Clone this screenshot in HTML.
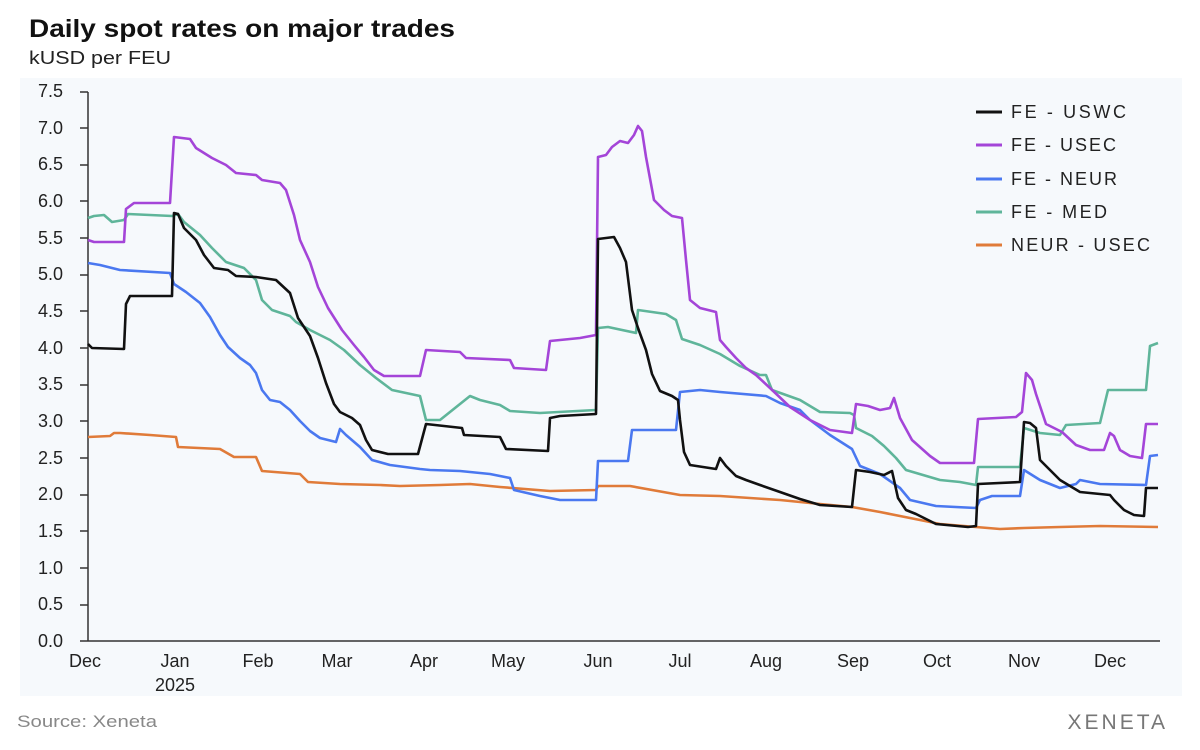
<!DOCTYPE html>
<html><head><meta charset="utf-8"><style>
body{margin:0;background:#fff;width:1200px;height:745px;overflow:hidden;font-family:"Liberation Sans",sans-serif}
</style></head><body>
<svg width="1200" height="745" xmlns="http://www.w3.org/2000/svg" font-family="Liberation Sans, sans-serif">
<rect x="20" y="78" width="1162" height="618" fill="#f6f9fc"/>
<text x="29" y="37" font-size="25" font-weight="bold" fill="#111" textLength="426" lengthAdjust="spacingAndGlyphs">Daily spot rates on major trades</text>
<text x="29" y="64" font-size="18" fill="#222" textLength="142" lengthAdjust="spacingAndGlyphs">kUSD per FEU</text>
<g font-size="18" fill="#222" text-anchor="end">
<text x="63" y="647">0.0</text><text x="63" y="610">0.5</text><text x="63" y="574">1.0</text><text x="63" y="537">1.5</text><text x="63" y="500">2.0</text><text x="63" y="464">2.5</text><text x="63" y="427">3.0</text><text x="63" y="390">3.5</text><text x="63" y="354">4.0</text><text x="63" y="317">4.5</text><text x="63" y="280">5.0</text><text x="63" y="244">5.5</text><text x="63" y="207">6.0</text><text x="63" y="170">6.5</text><text x="63" y="134">7.0</text><text x="63" y="97">7.5</text>
</g>
<g stroke="#333" stroke-width="1.5">
<line x1="88" y1="92" x2="88" y2="641"/><line x1="80" y1="641" x2="1160" y2="641"/>
<line x1="80" y1="92" x2="88" y2="92"/><line x1="80" y1="128" x2="88" y2="128"/><line x1="80" y1="165" x2="88" y2="165"/><line x1="80" y1="201" x2="88" y2="201"/><line x1="80" y1="238" x2="88" y2="238"/><line x1="80" y1="275" x2="88" y2="275"/><line x1="80" y1="311" x2="88" y2="311"/><line x1="80" y1="348" x2="88" y2="348"/><line x1="80" y1="385" x2="88" y2="385"/><line x1="80" y1="421" x2="88" y2="421"/><line x1="80" y1="458" x2="88" y2="458"/><line x1="80" y1="495" x2="88" y2="495"/><line x1="80" y1="531" x2="88" y2="531"/><line x1="80" y1="568" x2="88" y2="568"/><line x1="80" y1="605" x2="88" y2="605"/>
</g>
<g font-size="18" fill="#222" text-anchor="middle">
<text x="85" y="667">Dec</text><text x="175" y="667">Jan</text><text x="175" y="691">2025</text><text x="258" y="667">Feb</text><text x="337" y="667">Mar</text><text x="424" y="667">Apr</text><text x="508" y="667">May</text><text x="598" y="667">Jun</text><text x="680" y="667">Jul</text><text x="766" y="667">Aug</text><text x="853" y="667">Sep</text><text x="937" y="667">Oct</text><text x="1024" y="667">Nov</text><text x="1110" y="667">Dec</text>
</g>
<g fill="none" stroke-width="2.6" stroke-linejoin="round">
<polyline stroke="#e07b39" points="88,437 110,436 114,433 120,433 150,435 176,437 178,447 220,449 234,457 256,457 262,471 300,474 308,482 340,484 380,485 400,486 440,485 470,484 500,487 550,491 596,490 598,486 630,486 680,495 720,496 780,500 820,504 852,507 880,512 910,518 940,524 976,527 1000,529 1024,528 1060,527 1100,526 1158,527"/>
<polyline stroke="#5fb59a" points="88,218 94,216 104,215 112,222 124,220 128,214 172,216 178,214 184,222 200,235 212,248 226,262 244,268 256,280 262,300 272,310 290,316 296,322 310,330 330,340 344,350 360,365 376,378 392,390 420,396 426,420 440,420 470,396 480,400 500,405 510,411 540,413 596,410 598,328 608,327 636,333 638,310 666,314 676,320 682,339 700,345 720,354 740,366 760,375 766,375 772,390 800,400 820,412 850,413 854,415 856,428 872,436 884,446 896,458 906,470 940,480 960,482 976,485 978,467 1020,467 1024,428 1040,433 1060,435 1066,425 1100,423 1108,390 1146,390 1150,346 1158,343"/>
<polyline stroke="#4a78f0" points="88,263 100,265 120,270 170,273 174,284 186,292 200,303 210,317 220,335 228,347 240,358 250,365 256,373 262,390 270,400 280,402 290,410 300,421 310,431 320,438 336,442 340,429 346,435 360,447 372,460 390,465 420,469 430,470 460,471 490,474 510,478 514,490 540,496 560,500 596,500 598,461 628,461 632,430 676,430 680,392 700,390 720,392 766,396 780,403 800,410 810,420 830,435 852,449 860,466 880,474 900,488 910,500 936,506 976,508 980,500 992,496 1020,496 1024,470 1040,480 1060,488 1076,484 1080,480 1100,484 1146,485 1150,456 1158,455"/>
<polyline stroke="#a445d8" points="88,240 94,242 124,242 126,209 134,203 170,203 174,137 190,139 196,148 204,153 212,158 226,165 236,173 256,175 262,180 280,183 286,190 294,215 300,240 310,262 318,287 328,308 342,330 354,345 364,357 374,370 384,376 420,376 426,350 460,352 466,358 510,360 514,368 546,370 550,341 580,338 596,335 598,157 606,155 612,147 620,141 628,143 634,135 638,126 642,131 646,157 654,200 664,210 672,216 682,218 686,260 690,300 700,308 716,312 720,340 726,347 736,358 746,368 756,375 770,388 790,407 810,420 830,430 852,433 856,404 868,406 880,410 890,408 894,398 900,418 912,440 930,456 940,463 974,463 978,419 1016,417 1022,412 1026,373 1032,380 1036,394 1046,424 1062,432 1076,445 1090,450 1104,450 1110,433 1114,436 1120,450 1130,456 1142,458 1146,424 1158,424"/>
<polyline stroke="#111" points="88,344 92,348 124,349 126,304 130,296 172,296 174,213 178,214 184,228 196,240 204,255 214,268 228,270 236,276 256,277 276,280 290,293 298,318 310,336 318,358 326,383 334,404 340,412 352,418 360,425 366,440 372,450 388,454 418,454 426,424 462,428 464,435 500,437 506,449 548,451 550,418 560,416 596,414 598,239 614,237 620,248 626,262 632,310 638,328 646,350 652,374 660,391 672,396 678,400 680,420 684,452 690,465 716,469 720,458 726,466 736,476 746,480 760,485 780,492 800,499 820,505 852,507 856,470 870,472 884,475 892,471 898,498 906,510 916,514 926,519 936,524 968,527 976,526 978,484 1020,482 1024,422 1030,423 1036,428 1040,460 1050,470 1060,480 1070,486 1080,492 1110,495 1114,500 1124,510 1134,515 1144,516 1146,488 1158,488"/>
</g>
<g stroke-width="3">
<line x1="976" y1="112" x2="1002" y2="112" stroke="#111"/>
<line x1="976" y1="145" x2="1002" y2="145" stroke="#a445d8"/>
<line x1="976" y1="179" x2="1002" y2="179" stroke="#4a78f0"/>
<line x1="976" y1="212" x2="1002" y2="212" stroke="#5fb59a"/>
<line x1="976" y1="245" x2="1002" y2="245" stroke="#e07b39"/>
</g>
<g font-size="18" fill="#222" lengthAdjust="spacingAndGlyphs">
<text x="1011" y="118" textLength="115">FE - USWC</text><text x="1011" y="151" textLength="105">FE - USEC</text><text x="1011" y="185" textLength="106">FE - NEUR</text><text x="1011" y="218" textLength="96">FE - MED</text><text x="1011" y="251" textLength="139">NEUR - USEC</text>
</g>
<text x="17" y="727" font-size="17" fill="#888" textLength="140" lengthAdjust="spacingAndGlyphs">Source: Xeneta</text>
<text x="1168" y="729" font-size="21" fill="#777" text-anchor="end" letter-spacing="3">XENETA</text>
</svg>
</body></html>
